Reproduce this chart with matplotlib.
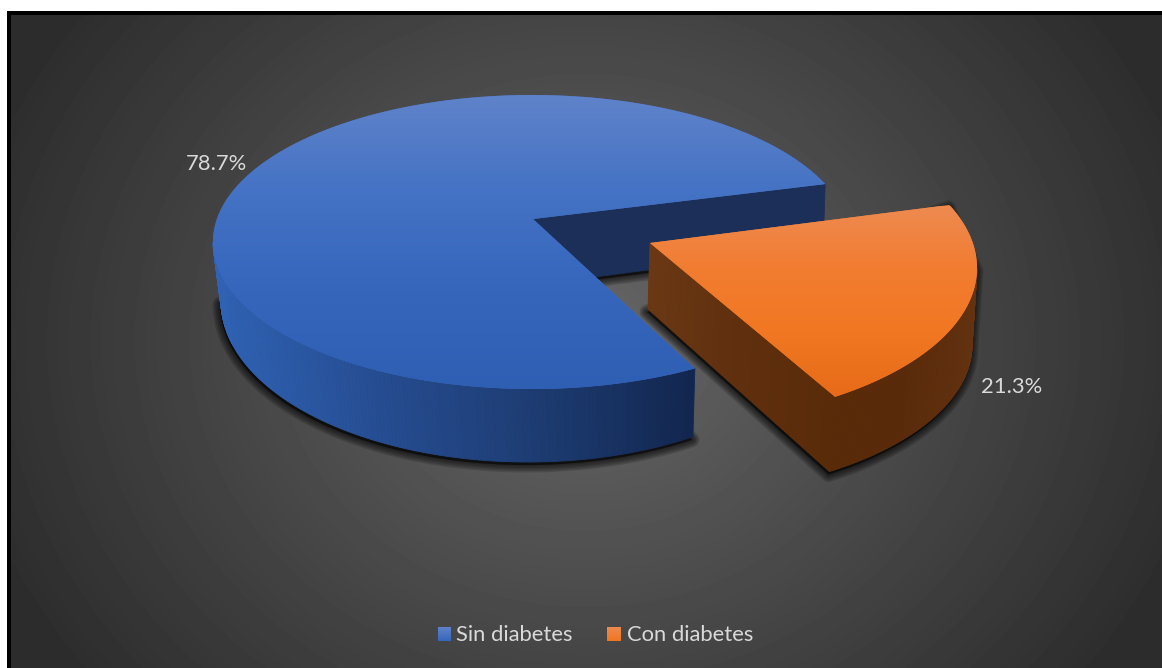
import numpy as np
import matplotlib
matplotlib.use('Agg')
import matplotlib.pyplot as plt
from matplotlib.colors import LinearSegmentedColormap
from matplotlib.collections import PolyCollection
from matplotlib.patches import Polygon, Rectangle

labels = ['Sin diabetes', 'Con diabetes']
values = [78.7, 21.3]
value_labels = ['78.7%', '21.3%']

W, H = 1162, 668
START = -57.5       # where the orange slice begins on the base ellipse

plt.rcParams['font.family'] = ['Lato', 'DejaVu Sans']


def rim(e, t):
    t = np.radians(t)
    return np.column_stack([e[0] + e[2] * np.cos(t), e[1] - e[3] * np.sin(t)])


def vgrad(ax, y0, y1, colors, clip=None, x0=0, x1=W):
    cmap = LinearSegmentedColormap.from_list('g', colors)
    grad = np.linspace(0, 1, 256).reshape(-1, 1)
    im = ax.imshow(grad, cmap=cmap, extent=(x0, x1, y1, y0), aspect='auto',
                   interpolation='bilinear', zorder=clip[1] if clip else 5)
    if clip:
        im.set_clip_path(clip[0])


def shadow(ax, pts, z):
    pts = pts + np.array([-1.0, 3.0])
    for lw in [15, 12, 9, 6, 3]:
        ax.add_patch(Polygon(pts, closed=True, fc='black', ec='black', lw=lw * 0.72,
                             alpha=0.15, joinstyle='round', zorder=z))


def side_wall(ax, top, bot, colors, x0, x1, z):
    cmap = LinearSegmentedColormap.from_list('w', colors)
    quads, cols = [], []
    for i in range(len(top) - 1):
        quads.append([top[i], top[i + 1], bot[i + 1], bot[i]])
        cols.append(cmap((top[i, 0] - x0) / (x1 - x0)))
    ax.add_collection(PolyCollection(quads, facecolors=cols, edgecolors=cols,
                                     linewidths=0.6, zorder=z))


fig = plt.figure(figsize=(W / 100, H / 100), dpi=100, facecolor='white')
ax = fig.add_axes([0, 0, 1, 1])

# background: black frame, then a soft radial gray fill
ax.add_patch(Rectangle((7, 11), W, H, fc='black', ec='none', zorder=0))
yy, xx = np.mgrid[15:H, 11:W]
r = np.sqrt(((xx - 585) / 600) ** 2 + ((yy - 340) / 520) ** 2)
shade = np.maximum(102.6 - 54.4 * r, 45) / 255
bg = ax.imshow(shade, cmap='gray', vmin=0, vmax=1, extent=(11, W, H, 15),
               aspect='auto', zorder=1)

span = values[1] * 3.6
t1, t2 = START, START + span

# ellipses as (cx, cy, a, b) for the top and bottom of each slice
blue_top, blue_bot = (532, 242, 319, 147), (528, 301, 307, 161)
orange_top, orange_bot = (657, 268, 320, 155), (664, 345, 308, 150)
blue_apex, blue_apex_bot = np.array([533, 219.0]), np.array([533, 285.0])
orange_apex, orange_apex_bot = np.array([650, 243.0]), np.array([648, 309.0])

# the top faces open a little wider than the base in perspective
t1b = t1 - 1.8
t2b = t1b + span * 1.076
t1o = t1 + 1.3
t2o = t1o + span * 1.046

# big blue slice
ts = np.linspace(t2b, t1b + 360, 300)
blue_face = np.vstack([blue_apex, rim(blue_top, ts)])
shadow(ax, np.vstack([rim(blue_bot, np.linspace(-180, t1, 120)), blue_apex_bot,
                      rim(blue_bot, [t2])]), 2)
side_wall(ax, rim(blue_top, np.linspace(-180, t1b, 160)),
          rim(blue_bot, np.linspace(-180, t1, 160)),
          ['#3063b5', '#264d92', '#1d3c72', '#12264f'], 213, 695, 3)
rim_back = rim(blue_top, [t2b])[0]
wall = [blue_apex, rim_back, rim_back + np.array([-2, 63]), blue_apex_bot]
ax.add_patch(Polygon(wall, closed=True, fc='#1b2f58', ec='#1b2f58', lw=0.5, zorder=3))
face = Polygon(blue_face, closed=True, fc='#3f6fc2', ec='none', zorder=4)
ax.add_patch(face)
vgrad(ax, 95, 390, ['#5f83ca', '#4472c4', '#3566bc', '#2f5fb3'], (face, 4))

# exploded orange slice
ts = np.linspace(t1o, t2o, 120)
orange_face = np.vstack([orange_apex, rim(orange_top, ts)])
ta_top = np.linspace(t1o, 0, 80)
ta_bot = np.linspace(t1, 0, 80)
shadow(ax, np.vstack([orange_apex_bot, rim(orange_bot, ta_bot), rim(orange_top, [0]),
                      rim(orange_top, [t2o])]), 5)
left = np.array([orange_apex, rim(orange_top, [t1o])[0], rim(orange_bot, [t1])[0],
                 orange_apex_bot])
ax.add_patch(Polygon(left, closed=True, fc='#653411', ec='none', zorder=6))
tl = np.linspace(0, 1, 60)
side_wall(ax, orange_apex + np.outer(tl, left[1] - left[0]),
          orange_apex_bot + np.outer(tl, left[2] - left[3]),
          ['#6a3814', '#5f2f0e', '#5a2b09'], 650, 835, 6)
side_wall(ax, rim(orange_top, ta_top), rim(orange_bot, ta_bot),
          ['#5a2b09', '#5a2b0a', '#633210'], 829, 977, 6)
oface = Polygon(orange_face, closed=True, fc='#f07a28', ec='none', zorder=7)
ax.add_patch(oface)
vgrad(ax, 206, 397, ['#ee8a50', '#f27c30', '#f17722', '#e76b18'], (oface, 7))

# value labels
ax.text(216.5, 163.5, value_labels[0], color='#d9d9d9', fontsize=15.8, ha='center',
        va='center', zorder=9)
ax.text(1011.5, 387, value_labels[1], color='#d9d9d9', fontsize=15.8, ha='center',
        va='center', zorder=9)

# legend
vgrad(ax, 627, 641, ['#5f83ca', '#3566bc'], None, 438, 451)
vgrad(ax, 627, 641, ['#ee8a50', '#f0761f'], None, 607, 621)
ax.text(456, 635, labels[0], color='#d9d9d9', fontsize=15.8, ha='left', va='center', zorder=9)
ax.text(627, 635, labels[1], color='#d9d9d9', fontsize=15.8, ha='left', va='center', zorder=9)

ax.set_xlim(0, W)
ax.set_ylim(H, 0)
ax.axis('off')
fig.savefig('out.png', dpi=100, facecolor='white')
